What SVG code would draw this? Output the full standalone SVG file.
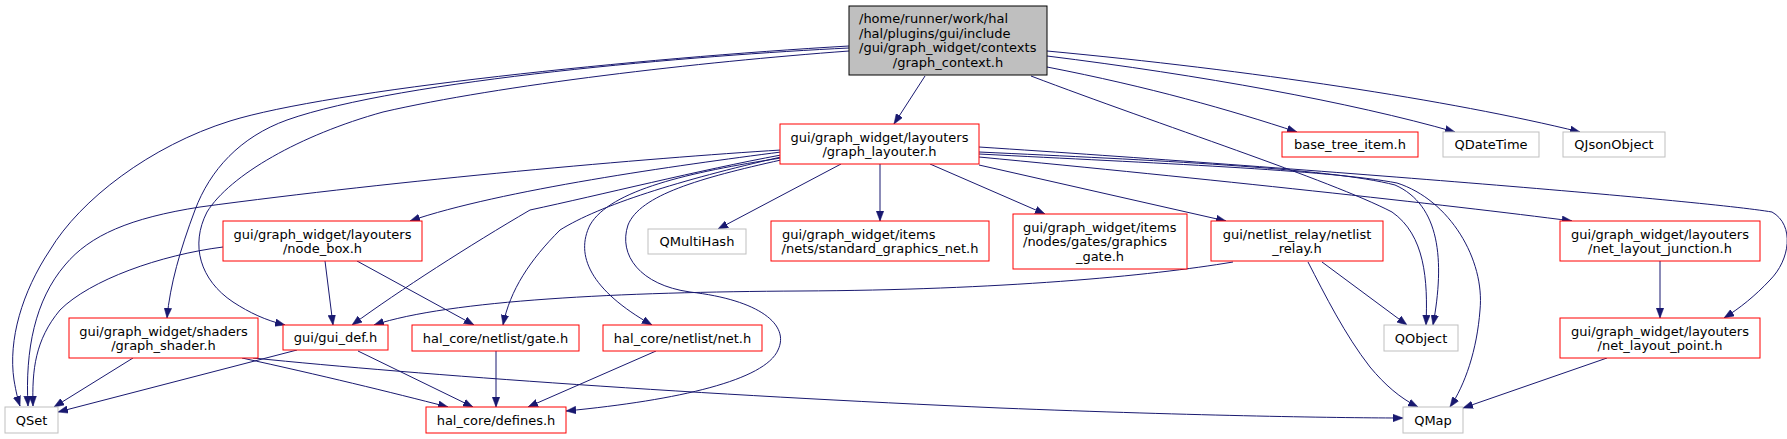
<svg xmlns="http://www.w3.org/2000/svg" width="1787" height="439" viewBox="0 0 1787 439">
<defs>
<style>
.n rect{fill:#ffffff;stroke:#ff0000;stroke-width:1}
.g rect{fill:#ffffff;stroke:#bfbfbf;stroke-width:1}
.m rect{fill:#bfbfbf;stroke:#000000;stroke-width:1}
text{font-family:"DejaVu Sans","Liberation Sans",sans-serif;font-size:13px;fill:#000000}
.c{text-anchor:middle}
.e path{fill:none;stroke:#191970;stroke-width:1;marker-end:url(#ah)}
</style>
<marker id="ah" markerUnits="userSpaceOnUse" markerWidth="10" markerHeight="8" refX="10" refY="3.75" orient="auto" viewBox="0 0 10 7.5">
<path d="M0,0 L10,3.75 L0,7.5 z" fill="#191970" stroke="#191970" stroke-width="0.5"/>
</marker>
</defs>
<rect width="1787" height="439" fill="#ffffff"/>
<g id="edges" class="e">
<path d="M925,76 L894,124"/>
<path d="M849,46 C640,58 330,90 230,121 C150,146 80,200 50,250 C22,292 8,340 14,380 C16,392 18,400 20,406"/>
<path d="M849,48 C700,55 400,80 287,120 C240,137 210,170 195,210 C180,250 170,285 167,318"/>
<path d="M849,51 C700,62 500,85 383,112 C300,135 230,175 207,212 C190,245 200,280 233,302 C250,313 265,320 285,325"/>
<path d="M1047,67 C1150,87 1230,110 1297,132"/>
<path d="M1047,56 C1200,75 1350,102 1455,132"/>
<path d="M1047,51 C1250,70 1450,100 1580,132"/>
<path d="M1031,76 C1160,125 1330,180 1392,212 C1425,235 1428,280 1426,325"/>
<path d="M979,152 C1150,160 1330,168 1395,185 C1440,205 1445,260 1433,325"/>
<path d="M979,154 C1150,163 1330,170 1397,183 C1450,200 1485,260 1480,310 C1477,350 1465,385 1450,407"/>
<path d="M979,157 C1200,178 1450,205 1572,221"/>
<path d="M979,147 C1300,168 1700,200 1772,212 C1795,225 1790,260 1770,280 C1755,296 1740,308 1724,318"/>
<path d="M979,165 L1226,221"/>
<path d="M930,164 L1045,214"/>
<path d="M880,164 L880,221"/>
<path d="M841,164 L718,229"/>
<path d="M781,152 C680,165 500,190 410,221"/>
<path d="M781,150 C650,158 400,180 200,207 C130,218 90,235 65,265 C35,300 25,350 28,406"/>
<path d="M781,155 C700,170 600,195 530,210 C470,245 400,290 352,325"/>
<path d="M781,157 C680,180 600,205 560,230 C530,260 510,290 503,325"/>
<path d="M781,158 C690,172 610,190 590,225 C575,255 590,290 652,325"/>
<path d="M781,160 C700,178 640,195 628,225 C618,255 640,285 690,292 C760,300 790,325 778,350 C765,380 680,400 566,411"/>
<path d="M325,261 L333,325"/>
<path d="M357,261 L474,325"/>
<path d="M223,247 C160,255 90,280 60,310 C35,340 32,370 33,406"/>
<path d="M133,358 L54,407"/>
<path d="M242,358 C320,375 390,392 448,407"/>
<path d="M253,358 C420,375 700,395 1000,408 C1200,416 1350,418 1403,418"/>
<path d="M297,350 L58,412"/>
<path d="M358,351 L473,407"/>
<path d="M496,351 L496,407"/>
<path d="M656,351 L528,407"/>
<path d="M1233,262 C1150,276 1000,290 800,291 C620,292 450,300 374,325"/>
<path d="M1322,262 L1407,325"/>
<path d="M1308,262 C1325,295 1345,335 1370,367 C1385,385 1400,398 1418,407"/>
<path d="M1660,261 L1660,318"/>
<path d="M1607,358 L1463,408"/>
</g>
<g id="graph_context" class="m"><rect x="849" y="6" width="198" height="69"/>
<text x="859" y="23">/home/runner/work/hal</text>
<text x="859" y="37.5">/hal/plugins/gui/include</text>
<text x="859" y="52">/gui/graph_widget/contexts</text>
<text class="c" x="948" y="66.5">/graph_context.h</text></g>
<g id="graph_layouter" class="n"><rect x="780" y="124" width="199" height="40"/>
<text class="c" x="879.5" y="141.5">gui/graph_widget/layouters</text>
<text class="c" x="879.5" y="156">/graph_layouter.h</text></g>
<g id="base_tree_item" class="n"><rect x="1282" y="132" width="136" height="25"/>
<text class="c" x="1350" y="149">base_tree_item.h</text></g>
<g id="QDateTime" class="g"><rect x="1443" y="132" width="96" height="25"/>
<text class="c" x="1491" y="149">QDateTime</text></g>
<g id="QJsonObject" class="g"><rect x="1563" y="132" width="102" height="25"/>
<text class="c" x="1614" y="149">QJsonObject</text></g>
<g id="node_box" class="n"><rect x="223" y="221" width="199" height="40"/>
<text class="c" x="322.5" y="238.5">gui/graph_widget/layouters</text>
<text class="c" x="322.5" y="253">/node_box.h</text></g>
<g id="QMultiHash" class="g"><rect x="648" y="229" width="98" height="25"/>
<text class="c" x="697" y="246">QMultiHash</text></g>
<g id="standard_graphics_net" class="n"><rect x="771" y="221" width="218" height="40"/>
<text x="782" y="238.5">gui/graph_widget/items</text>
<text class="c" x="880" y="253">/nets/standard_graphics_net.h</text></g>
<g id="graphics_gate" class="n"><rect x="1013" y="214" width="174" height="55"/>
<text x="1023" y="231.5">gui/graph_widget/items</text>
<text x="1023" y="246">/nodes/gates/graphics</text>
<text class="c" x="1100" y="260.5">_gate.h</text></g>
<g id="netlist_relay" class="n"><rect x="1211" y="221" width="172" height="40"/>
<text class="c" x="1297" y="238.5">gui/netlist_relay/netlist</text>
<text class="c" x="1297" y="253">_relay.h</text></g>
<g id="net_layout_junction" class="n"><rect x="1560" y="221" width="200" height="40"/>
<text class="c" x="1660" y="238.5">gui/graph_widget/layouters</text>
<text class="c" x="1660" y="253">/net_layout_junction.h</text></g>
<g id="graph_shader" class="n"><rect x="69" y="318" width="189" height="40"/>
<text class="c" x="163.5" y="335.5">gui/graph_widget/shaders</text>
<text class="c" x="163.5" y="350">/graph_shader.h</text></g>
<g id="gui_def" class="n"><rect x="283" y="325" width="105" height="25"/>
<text class="c" x="335.5" y="342">gui/gui_def.h</text></g>
<g id="gate" class="n"><rect x="412" y="325" width="167" height="26"/>
<text class="c" x="495.5" y="342.5">hal_core/netlist/gate.h</text></g>
<g id="net" class="n"><rect x="603" y="325" width="159" height="26"/>
<text class="c" x="682.5" y="342.5">hal_core/netlist/net.h</text></g>
<g id="QObject" class="g"><rect x="1384" y="325" width="74" height="26"/>
<text class="c" x="1421" y="342.5">QObject</text></g>
<g id="net_layout_point" class="n"><rect x="1560" y="318" width="200" height="40"/>
<text class="c" x="1660" y="335.5">gui/graph_widget/layouters</text>
<text class="c" x="1660" y="350">/net_layout_point.h</text></g>
<g id="QSet" class="g"><rect x="5" y="407" width="53" height="26"/>
<text class="c" x="31.5" y="424.5">QSet</text></g>
<g id="defines" class="n"><rect x="426" y="407" width="140" height="26"/>
<text class="c" x="496" y="424.5">hal_core/defines.h</text></g>
<g id="QMap" class="g"><rect x="1403" y="407" width="60" height="26"/>
<text class="c" x="1433" y="424.5">QMap</text></g>
</svg>
